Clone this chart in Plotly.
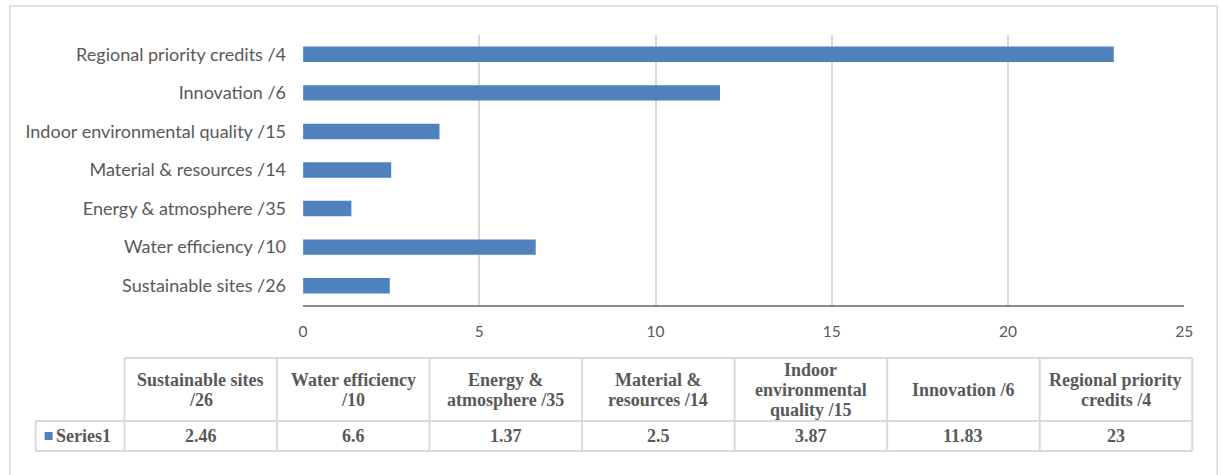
import plotly.graph_objects as go

categories = [
    "Sustainable sites /26",
    "Water efficiency /10",
    "Energy & atmosphere /35",
    "Material & resources /14",
    "Indoor environmental quality /15",
    "Innovation /6",
    "Regional priority credits /4",
]
values = [2.46, 6.6, 1.37, 2.5, 3.87, 11.83, 23]
value_labels = ["2.46", "6.6", "1.37", "2.5", "3.87", "11.83", "23"]
table_headers = [
    "Sustainable sites<br>/26",
    "Water efficiency<br>/10",
    "Energy &<br>atmosphere /35",
    "Material &<br>resources /14",
    "Indoor<br>environmental<br>quality /15",
    "Innovation /6",
    "Regional priority<br>credits /4",
]
series_name = "Series1"
x_ticks = [0, 5, 10, 15, 20, 25]

W, H = 1221, 475
BAR_COLOR = "#4f81bd"
GRID = "#d9d9d9"
TEXT = "#595959"

# the page is photographed with a slight horizontal squeeze; map target pixels to paper
X_OFF, X_SCALE = 2.3, 0.9906


def px(x):
    return (x - X_OFF) / X_SCALE / W


def py(y):
    return 1 - y / H


fig = go.Figure()
fig.add_trace(go.Bar(
    y=categories, x=values, orientation="h",
    marker=dict(color=BAR_COLOR, line=dict(width=0)),
    width=0.4, name=series_name, showlegend=False,
))

fig.update_layout(
    width=W, height=H, autosize=False,
    margin=dict(l=0, r=0, t=0, b=0),
    paper_bgcolor="white", plot_bgcolor="white",
    font=dict(family="Lato, Carlito, Calibri, sans-serif", color=TEXT, size=15),
    xaxis=dict(
        domain=[px(301), px(1184)], range=[0, 25], tickvals=x_ticks,
        showgrid=True, gridcolor=GRID, gridwidth=1.5,
        zeroline=False, showline=True, linecolor="#8c8c8c", linewidth=2,
        ticks="", ticklabelstandoff=11, tickfont=dict(size=15.5, color=TEXT),
        fixedrange=True,
    ),
    yaxis=dict(
        domain=[py(305), py(35)], range=[-0.5, 6.5],
        showgrid=False, zeroline=False, showline=False,
        ticks="", ticklabelstandoff=16, tickfont=dict(size=18, color=TEXT),
        fixedrange=True,
    ),
)

shapes = []
# outer chart border (bottom edge beyond the visible area)
shapes.append(dict(type="rect", xref="paper", yref="paper",
                   x0=px(7), x1=px(1217), y0=py(480), y1=py(6),
                   line=dict(color=GRID, width=1.5), layer="below"))

# data table geometry
tbl_left = 33
col0_right = 122
col_w = (1192 - 122) / len(table_headers)
row_top, row_mid, row_bot = 358, 421, 451
line_step = 20
col_edges = [col0_right + i * col_w for i in range(len(table_headers) + 1)]

line = dict(color=GRID, width=2)
shapes.append(dict(type="line", xref="paper", yref="paper",
                   x0=px(col_edges[0]), x1=px(col_edges[-1]), y0=py(row_top), y1=py(row_top), line=line))
for yy in (row_mid, row_bot):
    shapes.append(dict(type="line", xref="paper", yref="paper",
                       x0=px(tbl_left), x1=px(col_edges[-1]), y0=py(yy), y1=py(yy), line=line))
shapes.append(dict(type="line", xref="paper", yref="paper",
                   x0=px(tbl_left), x1=px(tbl_left), y0=py(row_mid), y1=py(row_bot), line=line))
for xe in col_edges:
    shapes.append(dict(type="line", xref="paper", yref="paper",
                       x0=px(xe), x1=px(xe), y0=py(row_top), y1=py(row_bot), line=line))

# legend key of the data table
shapes.append(dict(type="rect", xref="paper", yref="paper",
                   x0=px(tbl_left + 9), x1=px(tbl_left + 17),
                   y0=py((row_mid + row_bot) / 2 + 4), y1=py((row_mid + row_bot) / 2 - 4),
                   line=dict(width=0), fillcolor=BAR_COLOR))

annotations = []
tfont = dict(family="Liberation Serif, Cambria, serif", size=18, color=TEXT)
hdr_mid = (row_top + row_mid) / 2
for i, (hdr, val) in enumerate(zip(table_headers, value_labels)):
    cx = (col_edges[i] + col_edges[i + 1]) / 2
    lines = hdr.split("<br>")
    y0 = hdr_mid - (len(lines) - 1) * line_step / 2
    for k, ln in enumerate(lines):
        annotations.append(dict(xref="paper", yref="paper", x=px(cx), y=py(y0 + k * line_step),
                                text="<b>" + ln + "</b>", showarrow=False, align="center",
                                xanchor="center", yanchor="middle", font=tfont))
    annotations.append(dict(xref="paper", yref="paper", x=px(cx), y=py((row_mid + row_bot) / 2),
                            text="<b>" + val + "</b>", showarrow=False, align="center",
                            xanchor="center", yanchor="middle", font=tfont))
annotations.append(dict(xref="paper", yref="paper", x=px(tbl_left + 18), y=py((row_mid + row_bot) / 2),
                        text="<b>%s</b>" % series_name,
                        showarrow=False, xanchor="left", yanchor="middle", font=tfont))

fig.update_layout(shapes=shapes, annotations=annotations)
fig.write_html("out.html", config={"responsive": False})
